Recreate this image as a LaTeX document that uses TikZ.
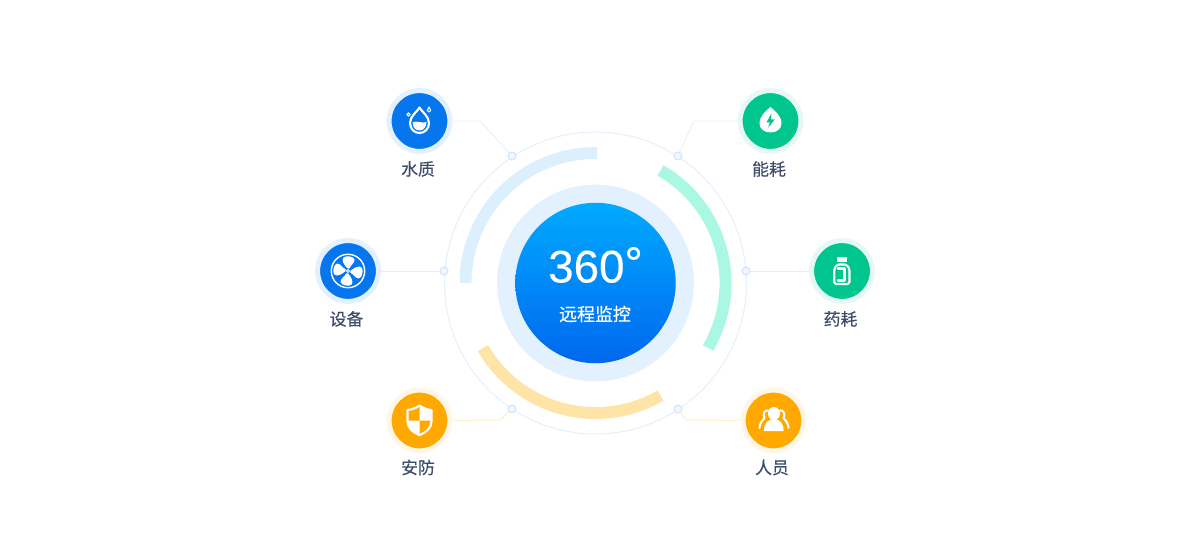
\documentclass[tikz,border=0pt]{standalone}
\usepackage{fontspec}
\setmainfont{Liberation Sans}
\newfontfamily\numfont[FakeBold=0.3]{Liberation Sans}
\newfontfamily\cjk[FakeBold=0.4]{Noto Sans CJK SC}
\definecolor{iconblue}{HTML}{0676EE}
\definecolor{haloblue}{HTML}{E3F0FD}
\definecolor{icongreen}{HTML}{00C58E}
\definecolor{halogreen}{HTML}{E6F8F3}
\definecolor{iconorange}{HTML}{FFA800}
\definecolor{haloorange}{HTML}{FFF6E5}
\definecolor{textgrey}{HTML}{3D4D6A}
\definecolor{coretop}{HTML}{00AAFF}
\definecolor{corebottom}{HTML}{0068EE}
\definecolor{arcblue}{HTML}{DCEFFD}
\definecolor{arcgreen}{HTML}{AAF8E4}
\definecolor{arcorange}{HTML}{FFE4A8}
\definecolor{jointline}{HTML}{CFE4FA}
\definecolor{jointfill}{HTML}{F0F7FE}
\definecolor{linkgreen}{HTML}{DFF6EF}
\definecolor{linkorange}{HTML}{FFE9BD}
\begin{document}
\begin{tikzpicture}[x=0.02cm, y=0.02cm,
    main/.style={circle, minimum size=34.6pt, inner sep=0pt, line width=2.83pt},
    mainblue/.style={main, fill=iconblue, draw=haloblue},
    maingreen/.style={main, fill=icongreen, draw=halogreen},
    mainorange/.style={main, fill=iconorange, draw=haloorange},
    joint/.style={circle, draw=jointline, fill=jointfill, line width=0.6pt, minimum size=4.5pt, inner sep=0pt},
    link/.style={line width=0.5pt},
    tag/.style={font=\cjk\fontsize{9.6pt}{11pt}\selectfont, text=textgrey, inner sep=0pt, node distance=0.96cm, xshift=-0.03cm},
    ring/.style={line width=6.8pt},
    ink/.style={draw=white, line width=1.2pt, line join=round, line cap=round}]
    \useasboundingbox (0, 0) rectangle (1190, 548);

    % rings
    \node[circle, fill=haloblue, minimum size=112pt, inner sep=0pt] (halo) at (595.5, 265) {};
    \node[circle, top color=coretop, bottom color=corebottom, minimum size=91.3pt, inner sep=0pt] (core) at (595.5, 265) {};
    \draw[haloblue, line width=0.6pt] (core) circle (151);
    \begin{scope}[shift={(core)}]
        \draw[ring, arcblue] (89.3:130) arc (89.3:180:130);
        \draw[ring, arcgreen] (60:130) arc (60:-30:130);
        \draw[ring, arcorange] (210:130) arc (210:300:130);
    \end{scope}
    \node[text=white, font=\numfont\fontsize{26pt}{28pt}\selectfont, inner sep=0pt] (degrees) at (595.5, 283) {360\raisebox{2pt}{°}};
    \node[text=white, font=\cjk\fontsize{10.2pt}{12pt}\selectfont, inner sep=0pt] (title) at (595, 234) {远程监控};

    % items
    \node[mainblue] (water) at (419.5, 427) {};
    \node[mainblue] (fan) at (348, 277) {};
    \node[maingreen] (energy) at (770.5, 427) {};
    \node[maingreen] (bottle) at (842, 277) {};
    \node[mainorange] (shield) at (419.5, 127.5) {};
    \node[mainorange] (people) at (773.5, 127.5) {};
    \node[tag, below of=water] (watertag) {水质};
    \node[tag, below of=fan] (fantag) {设备};
    \node[tag, below of=energy] (energytag) {能耗};
    \node[tag, below of=bottle] (bottletag) {药耗};
    \node[tag, below of=shield, yshift=0.02cm] (shieldtag) {安防};
    \node[tag, below of=people, yshift=0.02cm] (peopletag) {人员};

    % connectors
    \node[joint] (j1) at (512, 392) {};
    \node[joint] (j2) at (444, 277) {};
    \node[joint] (j3) at (678, 392) {};
    \node[joint] (j4) at (746, 277) {};
    \node[joint] (j5) at (512, 139) {};
    \node[joint] (j6) at (678, 139) {};
    \coordinate (b1) at (480, 427);
    \coordinate (b3) at (694, 427);
    \coordinate (b5) at (500, 128);
    \coordinate (b6) at (686, 128);
    \draw[link, haloblue] (water) -- (b1) -- (j1);
    \draw[link, haloblue] (fan) -- (j2);
    \draw[link, linkgreen] (energy) -- (b3) -- (j3);
    \draw[link, linkgreen] (bottle) -- (j4);
    \draw[link, linkorange] (shield) -- (b5) -- (j5);
    \draw[link, linkorange] (people) -- (b6) -- (j6);

    % icons
    \begin{scope}[shift={(water)}]
        \draw[ink] (0, 13.5) .. controls (2, 9.5) and (9.5, 5) .. (9.5, -2) .. controls (9.5, -8) and (5, -12) .. (0, -12) .. controls (-5, -12) and (-9.5, -8) .. (-9.5, -2) .. controls (-9.5, 5) and (-2, 9.5) .. cycle;
        \fill[white] (-7, -1.5) .. controls (-3, 1) and (3, -3) .. (7, -1) .. controls (7, -6) and (4, -9.5) .. (0, -9.5) .. controls (-4, -9.5) and (-7, -6) .. cycle;
        \draw[ink, line width=0.6pt] (-11, 6.5) circle (1.7);
        \draw[ink, line width=0.6pt] (9.5, 14) .. controls (10.2, 12.5) and (11.2, 12) .. (11.2, 10.5) .. controls (11.2, 8.5) and (7.8, 8.5) .. (7.8, 10.5) .. controls (7.8, 12) and (8.8, 12.5) .. cycle;
    \end{scope}
    \begin{scope}[shift={(fan)}]
        \draw[ink, line width=0.8pt] (0, 0) circle (16.7);
        \draw[ink, line width=0.5pt] (0, 0) circle (1.6);
        \foreach \a in {0, -95, -185, -275} {
            \fill[white, rotate=\a] (-0.5, 2.5) .. controls (-4, 6) and (-7, 11) .. (-4.5, 13.5) .. controls (-2, 15.5) and (5.5, 15) .. (6.5, 11.5) .. controls (7, 8) and (2.5, 6) .. (1.5, 2.5) -- cycle;
        }
    \end{scope}
    \begin{scope}[shift={(energy)}]
        \fill[white] (0, 14) .. controls (5, 9.5) and (11, 5) .. (11, -2.5) .. controls (11, -8) and (6, -11.5) .. (0, -11.5) .. controls (-6, -11.5) and (-11, -8) .. (-11, -2.5) .. controls (-11, 5) and (-5, 9.5) .. cycle;
        \fill[icongreen] (1, 7.7) -- (-4, -1.3) -- (-0.7, -1.3) -- (-2.3, -6.7) -- (4.3, 1.7) -- (0.3, 1.7) -- cycle;
    \end{scope}
    \begin{scope}[shift={(bottle)}]
        \fill[white] (-5, 9) rectangle (5, 14);
        \draw[ink, rounded corners=1pt] (-5, 6.5) -- (4.5, 6.5) -- (7.5, 2) -- (7.5, -13) -- (-7.8, -13) -- (-7.8, 2) -- cycle;
        \draw[ink] (-4, 2.5) -- (2.5, 2.5) -- (2.5, -9.5) -- (-4, -9.5);
    \end{scope}
    \begin{scope}[shift={(shield)}]
        \draw[ink] (0, 15) .. controls (4, 12) and (8, 11) .. (12, 10.5) -- (12, -1) .. controls (12, -8) and (6, -12) .. (0, -14.7) .. controls (-6, -12) and (-12, -8) .. (-12, -1) -- (-12, 10.5) .. controls (-8, 11) and (-4, 12) .. cycle;
        \fill[white] (0, 15) .. controls (4, 12) and (8, 11) .. (12, 10.5) -- (12, 0) -- (0, 0) -- cycle;
        \fill[white] (0, 0) -- (0, -14.7) .. controls (-6, -12) and (-12, -8) .. (-12, 0) -- cycle;
    \end{scope}
    \begin{scope}[shift={(people)}]
        \fill[white] (0.5, 7) ellipse (6 and 6.5);
        \fill[white] (-9.5, -10.5) -- (10, -10.5) .. controls (10.5, -3) and (6, 1.5) .. (0.5, 1.5) .. controls (-5, 1.5) and (-10, -3) .. cycle;
        \draw[ink] (-5.5, 10) .. controls (-9, 11) and (-11, 6) .. (-9, 2.5) .. controls (-11, 0) and (-14, -3) .. (-14, -7.5);
        \draw[ink] (6.5, 10) .. controls (10, 11) and (12, 6) .. (10, 2.5) .. controls (12, 0) and (15, -3) .. (15, -7.5);
    \end{scope}
\end{tikzpicture}
\end{document}
